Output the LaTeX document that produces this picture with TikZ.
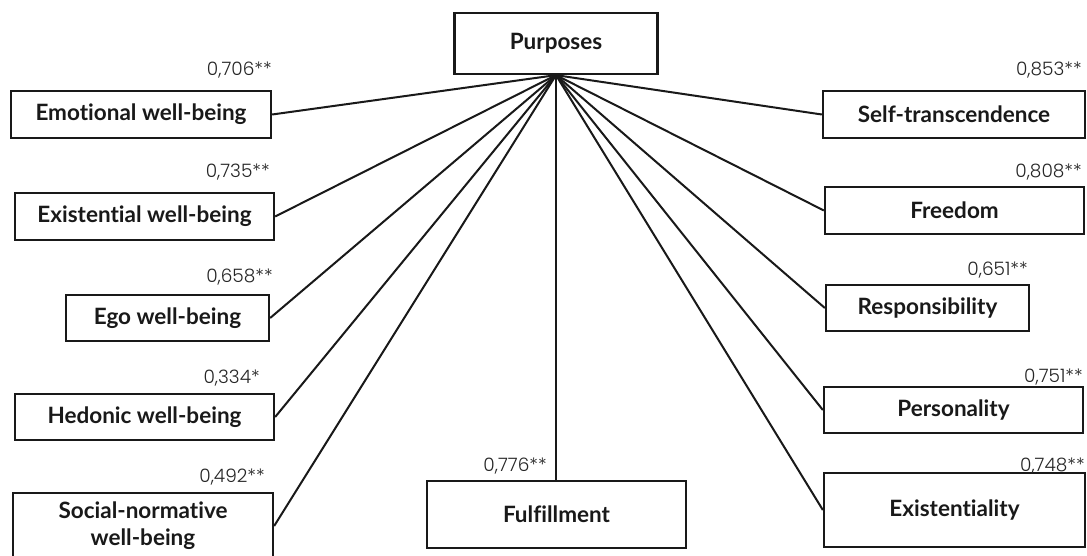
\documentclass[tikz,border=0pt]{standalone}
\usepackage{fontspec}
\setmainfont{Lato}[Ligatures=NoCommon]
\newfontfamily\numfont{Poppins Light}
\begin{document}
\begin{tikzpicture}[x=1pt,y=-1pt,
  box/.style={draw=black!90, line width=2.3pt, inner sep=0pt, align=center,
    font=\fontsize{22.5}{27}\selectfont\bfseries, text=black!90},
  coef/.style={anchor=base east, inner sep=0pt, font=\numfont\fontsize{18.5}{20}\selectfont, text=black!85},
  link/.style={draw=black!90, line width=2pt}]
\useasboundingbox (0,0) rectangle (1087,556);
\fill[white] (0,0) rectangle (1087,556);
% boxes: center (x,y), width, height
\node[box, minimum width=203pt, minimum height=61pt] (P) at (556,43.5) {Purposes};
\node[box, minimum width=260pt, minimum height=47pt] (emo) at (141,114.5) {Emotional well-being};
\node[box, minimum width=259pt, minimum height=47pt] (exi) at (144.5,216.5) {Existential well-being};
\node[box, minimum width=203pt, minimum height=46pt] (ego) at (167.5,318) {Ego well-being};
\node[box, minimum width=259pt, minimum height=46pt] (hed) at (144.5,417) {Hedonic well-being};
\node[box, minimum width=260pt, minimum height=66pt] (soc) at (143,526) {Social-normative\\well-being};
\node[box, minimum width=259pt, minimum height=67pt] (ful) at (556.5,514.5) {Fulfillment};
\node[box, minimum width=262pt, minimum height=47pt] (sel) at (954,114.5) {Self-transcendence};
\node[box, minimum width=259pt, minimum height=47pt] (fre) at (954.5,210.5) {Freedom};
\node[box, minimum width=203pt, minimum height=46pt] (res) at (927.5,308) {Responsibility};
\node[box, minimum width=259pt, minimum height=46pt] (per) at (953.5,410) {Personality};
\node[box, minimum width=261pt, minimum height=74pt] (exl) at (954.5,510) {Existentiality};
% connectors
\foreach \t in {emo,exi,ego,hed,soc}
  \draw[link] (P.south) -- (\t.east);
\foreach \t in {sel,fre,res,per,exl}
  \draw[link] (P.south) -- (\t.west);
\draw[link] (P.south) -- (P.south |- ful.north);
% coefficients
\node[coef] (c1) at (272,76) {0,706**};
\node[coef] (c2) at (270,178) {0,735**};
\node[coef] (c3) at (273,282) {0,658**};
\node[coef] (c4) at (260,383) {0,334*};
\node[coef] (c5) at (265,482) {0,492**};
\node[coef] (c6) at (547,471) {0,776**};
\node[coef] (c7) at (1082,76) {0,853**};
\node[coef] (c8) at (1082,178) {0,808**};
\node[coef] (c9) at (1028,275) {0,651**};
\node[coef] (c10) at (1083,382) {0,751**};
\node[coef] (c11) at (1085,471) {0,748**};
\end{tikzpicture}
\end{document}
